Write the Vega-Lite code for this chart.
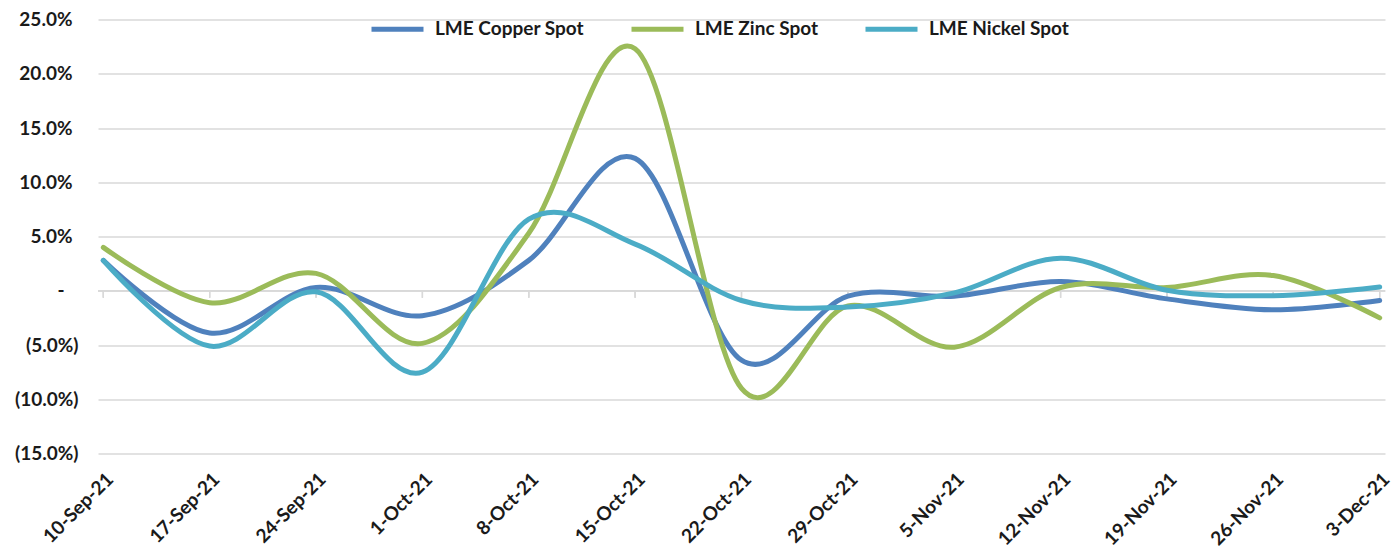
{
  "$schema": "https://vega.github.io/schema/vega-lite/v6.json",
  "width": 1287,
  "height": 434,
  "autosize": {"type": "none"},
  "padding": {"left": 98, "top": 19.5, "right": 8, "bottom": 99.5},
  "background": "white",
  "config": {
    "view": {"stroke": null},
    "font": "Lato",
    "axis": {"labelFont": "Lato", "labelFontWeight": "bold", "labelFontSize": 19, "labelColor": "#1a1a1a", "title": null, "domain": false, "ticks": false}
  },
  "data": {
    "values": [
      {"date": "10-Sep-21", "series": "LME Copper Spot", "value": 2.8},
      {"date": "17-Sep-21", "series": "LME Copper Spot", "value": -3.9},
      {"date": "24-Sep-21", "series": "LME Copper Spot", "value": 0.3},
      {"date": "1-Oct-21", "series": "LME Copper Spot", "value": -2.3},
      {"date": "8-Oct-21", "series": "LME Copper Spot", "value": 2.8},
      {"date": "15-Oct-21", "series": "LME Copper Spot", "value": 12.2},
      {"date": "22-Oct-21", "series": "LME Copper Spot", "value": -6.4},
      {"date": "29-Oct-21", "series": "LME Copper Spot", "value": -0.5},
      {"date": "5-Nov-21", "series": "LME Copper Spot", "value": -0.5},
      {"date": "12-Nov-21", "series": "LME Copper Spot", "value": 0.85},
      {"date": "19-Nov-21", "series": "LME Copper Spot", "value": -0.75},
      {"date": "26-Nov-21", "series": "LME Copper Spot", "value": -1.75},
      {"date": "3-Dec-21", "series": "LME Copper Spot", "value": -0.9},
      {"date": "10-Sep-21", "series": "LME Zinc Spot", "value": 4.0},
      {"date": "17-Sep-21", "series": "LME Zinc Spot", "value": -1.1},
      {"date": "24-Sep-21", "series": "LME Zinc Spot", "value": 1.6},
      {"date": "1-Oct-21", "series": "LME Zinc Spot", "value": -4.85},
      {"date": "8-Oct-21", "series": "LME Zinc Spot", "value": 5.3},
      {"date": "15-Oct-21", "series": "LME Zinc Spot", "value": 22.3},
      {"date": "22-Oct-21", "series": "LME Zinc Spot", "value": -9.0},
      {"date": "29-Oct-21", "series": "LME Zinc Spot", "value": -1.4},
      {"date": "5-Nov-21", "series": "LME Zinc Spot", "value": -5.2},
      {"date": "12-Nov-21", "series": "LME Zinc Spot", "value": 0.3},
      {"date": "19-Nov-21", "series": "LME Zinc Spot", "value": 0.3},
      {"date": "26-Nov-21", "series": "LME Zinc Spot", "value": 1.4},
      {"date": "3-Dec-21", "series": "LME Zinc Spot", "value": -2.5},
      {"date": "10-Sep-21", "series": "LME Nickel Spot", "value": 2.8},
      {"date": "17-Sep-21", "series": "LME Nickel Spot", "value": -5.1},
      {"date": "24-Sep-21", "series": "LME Nickel Spot", "value": -0.1},
      {"date": "1-Oct-21", "series": "LME Nickel Spot", "value": -7.5},
      {"date": "8-Oct-21", "series": "LME Nickel Spot", "value": 6.6},
      {"date": "15-Oct-21", "series": "LME Nickel Spot", "value": 4.3},
      {"date": "22-Oct-21", "series": "LME Nickel Spot", "value": -0.9},
      {"date": "29-Oct-21", "series": "LME Nickel Spot", "value": -1.5},
      {"date": "5-Nov-21", "series": "LME Nickel Spot", "value": -0.2},
      {"date": "12-Nov-21", "series": "LME Nickel Spot", "value": 3.0},
      {"date": "19-Nov-21", "series": "LME Nickel Spot", "value": 0.05},
      {"date": "26-Nov-21", "series": "LME Nickel Spot", "value": -0.45},
      {"date": "3-Dec-21", "series": "LME Nickel Spot", "value": 0.35}
    ]
  },
  "resolve": {"axis": {"y": "independent"}},
  "layer": [
    {
      "mark": {"type": "rule", "color": "#d9d9d9", "strokeWidth": 1.3},
      "encoding": {
        "y": {
          "datum": 0,
          "type": "quantitative",
          "axis": {"orient": "left", "values": [0], "grid": false, "labelPadding": 34, "labelExpr": "'-'"}
        }
      }
    },
    {
      "mark": {"type": "rule", "color": "#d9d9d9", "strokeWidth": 1.3},
      "encoding": {
        "x": {
          "field": "date",
          "type": "ordinal",
          "sort": null,
          "scale": {"type": "point", "padding": 0.05},
          "axis": {"grid": false, "labelAngle": -45, "labelPadding": 16}
        },
        "y": {
          "datum": 0,
          "type": "quantitative",
          "axis": {"orient": "left", "values": [-15, -10, -5], "grid": false, "labelPadding": 20, "labelExpr": "'(' + format(-datum.value, '.1f') + '%)'"}
        },
        "y2": {"datum": -0.65}
      }
    },
    {
      "mark": {"type": "line", "interpolate": "cardinal", "tension": 0, "strokeWidth": 5, "strokeCap": "round"},
      "encoding": {
        "x": {
          "field": "date",
          "type": "ordinal",
          "sort": null,
          "scale": {"type": "point", "padding": 0.05},
          "axis": {"grid": false, "labelAngle": -45, "labelPadding": 16}
        },
        "y": {
          "field": "value",
          "type": "quantitative",
          "scale": {"domain": [-15, 25], "nice": false, "zero": false},
          "axis": {
            "orient": "left",
            "values": [-15, -10, -5, 0, 5, 10, 15, 20, 25],
            "grid": true,
            "gridColor": "#d9d9d9",
            "gridWidth": 1.3,
            "labelPadding": 26,
            "labelExpr": "datum.value > 0 ? format(datum.value, '.1f') + '%' : ''"
          }
        },
        "color": {
          "field": "series",
          "type": "nominal",
          "scale": {
            "domain": ["LME Copper Spot", "LME Zinc Spot", "LME Nickel Spot"],
            "range": ["#4F81BD", "#9BBB59", "#4BACC6"]
          },
          "legend": {
            "orient": "none",
            "legendX": 271,
            "legendY": -19,
            "direction": "horizontal",
            "title": null,
            "symbolType": "stroke",
            "symbolSize": 2704,
            "symbolStrokeWidth": 5,
            "labelFont": "Lato",
            "labelFontWeight": "bold",
            "labelFontSize": 19,
            "labelColor": "#1a1a1a",
            "labelOffset": 9,
            "columnPadding": 37
          }
        }
      }
    }
  ]
}
